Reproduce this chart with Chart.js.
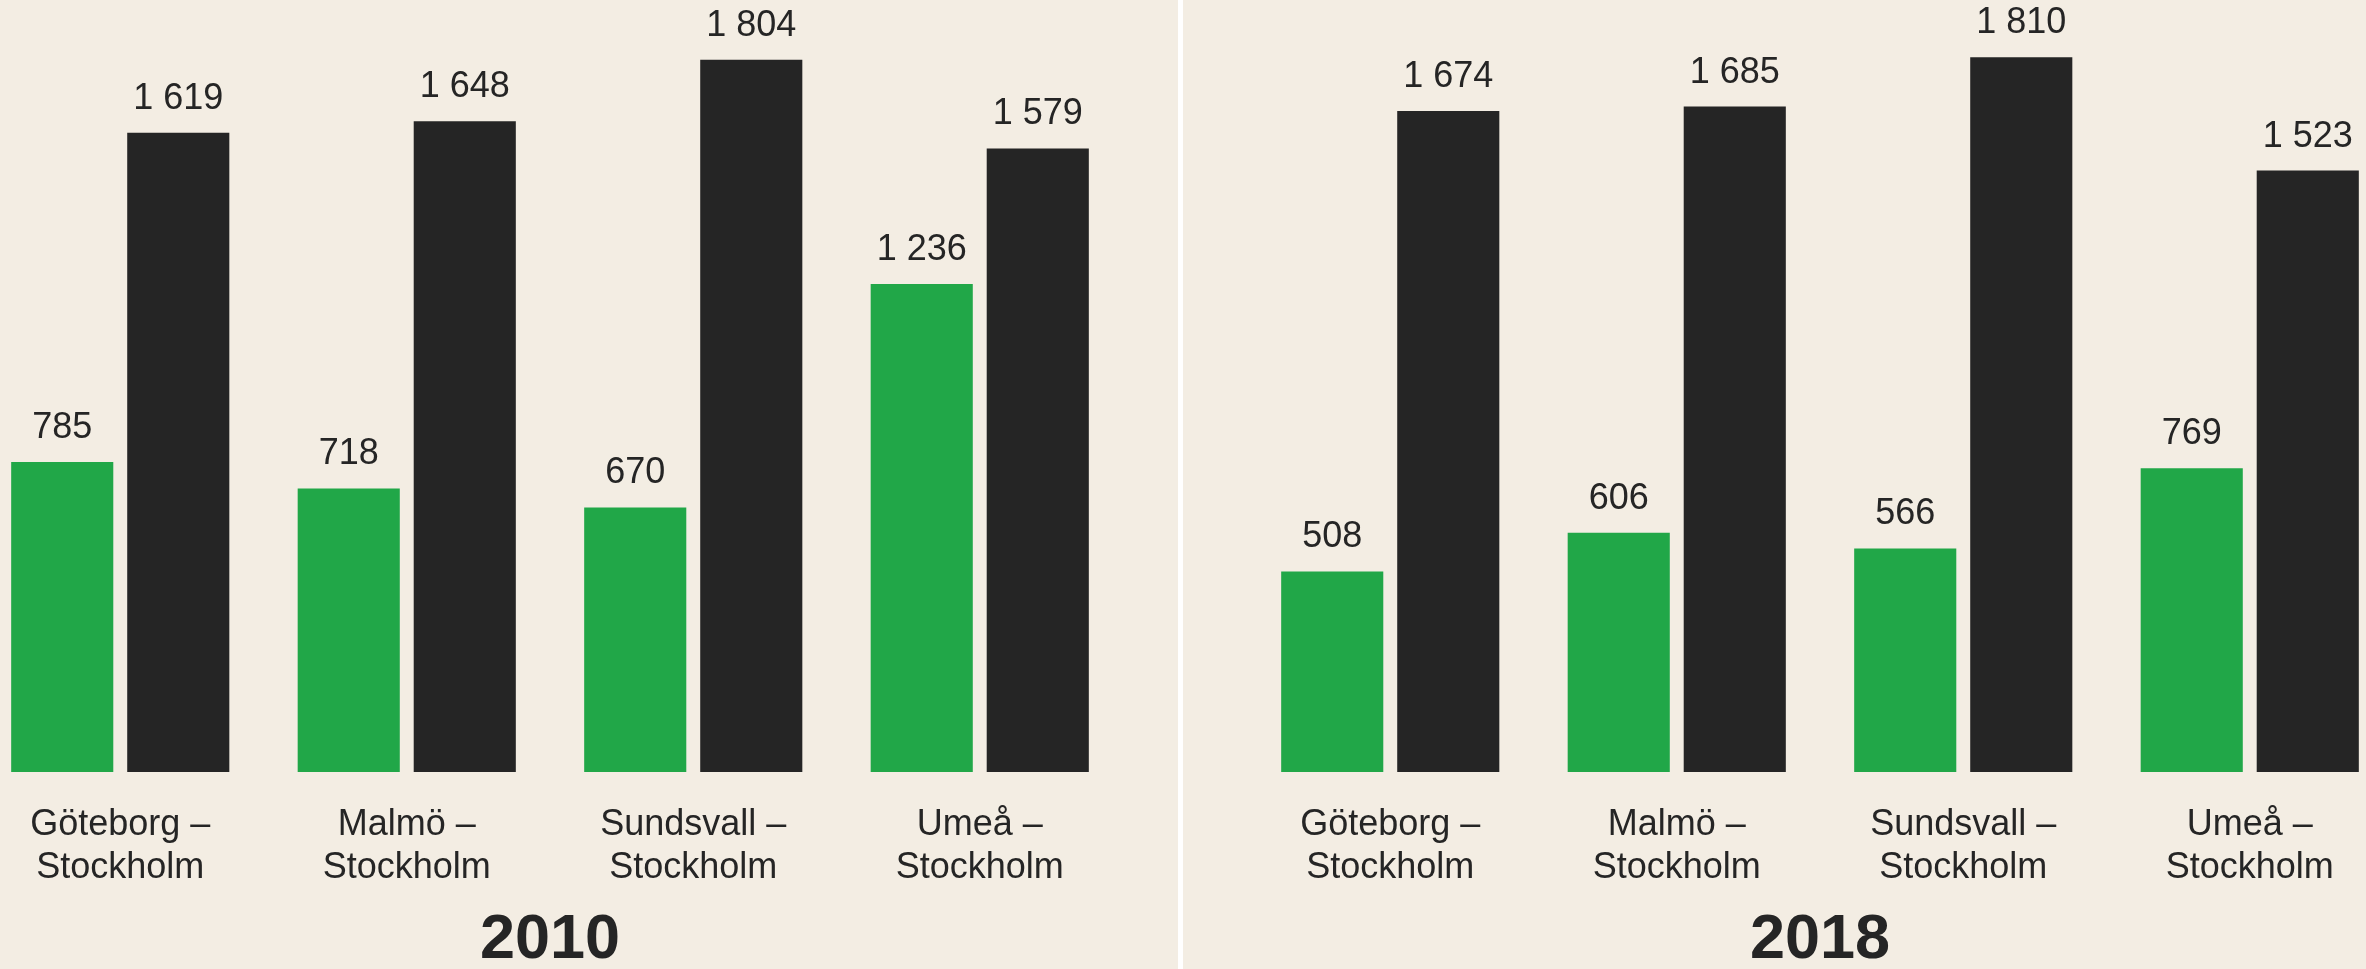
<!DOCTYPE html>
<html>
<head>
<meta charset="utf-8">
<script src="https://cdn.jsdelivr.net/npm/chart.js@4/dist/chart.umd.min.js"></script>
<style>
    html, body { margin: 0; padding: 0; }
    body {
        width: 2366px;
        height: 969px;
        overflow: hidden;
        position: relative;
        background: #f3ede3;
    }
    canvas { position: absolute; top: 0; }
    #chart2010 { left: -23px; }
    #chart2018 { left: 1247px; }
    .divider {
        position: absolute;
        left: 1178px;
        top: 0;
        width: 5px;
        height: 969px;
        background: #ffffff;
    }
</style>
</head>
<body>
<canvas id="chart2010" width="1146" height="969"></canvas>
<div class="divider"></div>
<canvas id="chart2018" width="1146" height="969"></canvas>

<script>
const routes = [
    ['Göteborg –', 'Stockholm'],
    ['Malmö –', 'Stockholm'],
    ['Sundsvall –', 'Stockholm'],
    ['Umeå –', 'Stockholm']
];
const years = ['2010', '2018'];
const green2010 = [785, 718, 670, 1236];
const black2010 = [1619, 1648, 1804, 1579];
const green2018 = [508, 606, 566, 769];
const black2018 = [1674, 1685, 1810, 1523];

const TEXT = '#252525';
const FONT = '"Liberation Sans", Arial, sans-serif';

function formatValue(v) {
    return String(v).replace(/\B(?=(\d{3})+(?!\d))/g, ' ');
}

// draws the numbers above each bar
const valueLabels = {
    id: 'valueLabels',
    afterDatasetsDraw(chart) {
        const ctx = chart.ctx;
        ctx.save();
        ctx.font = '36px ' + FONT;
        ctx.fillStyle = TEXT;
        ctx.textAlign = 'center';
        ctx.textBaseline = 'alphabetic';
        chart.data.datasets.forEach((ds, i) => {
            chart.getDatasetMeta(i).data.forEach((bar, j) => {
                ctx.fillText(formatValue(ds.data[j]), bar.x, bar.y - 24);
            });
        });
        ctx.restore();
    }
};

function makeChart(id, year, greenData, blackData) {
    const el = document.getElementById(id);
    return new Chart(el, {
        type: 'bar',
        data: {
            labels: routes,
            datasets: [{
                data: greenData,
                backgroundColor: '#21a748',
                categoryPercentage: 0.81,
                barPercentage: 0.88
            }, {
                data: blackData,
                backgroundColor: '#252525',
                categoryPercentage: 0.81,
                barPercentage: 0.88
            }]
        },
        options: {
            responsive: false,
            animation: false,
            layout: { padding: 0 },
            plugins: {
                legend: { display: false },
                tooltip: { enabled: false }
            },
            scales: {
                y: {
                    display: false,
                    min: 0,
                    max: 1955
                },
                x: {
                    grid: { display: false, drawTicks: false },
                    border: { display: false },
                    ticks: {
                        color: TEXT,
                        padding: 31,
                        font: { family: FONT, size: 36, lineHeight: 1.2 }
                    },
                    title: {
                        display: true,
                        text: year,
                        color: TEXT,
                        padding: { top: 0, bottom: 0 },
                        font: { family: FONT, size: 63, weight: 'bold', lineHeight: 0.9 }
                    },
                    afterFit(scale) {
                        scale.height = 197;
                    }
                }
            }
        },
        plugins: [valueLabels]
    });
}

makeChart('chart2010', years[0], green2010, black2010);
makeChart('chart2018', years[1], green2018, black2018);
</script>
</body>
</html>
